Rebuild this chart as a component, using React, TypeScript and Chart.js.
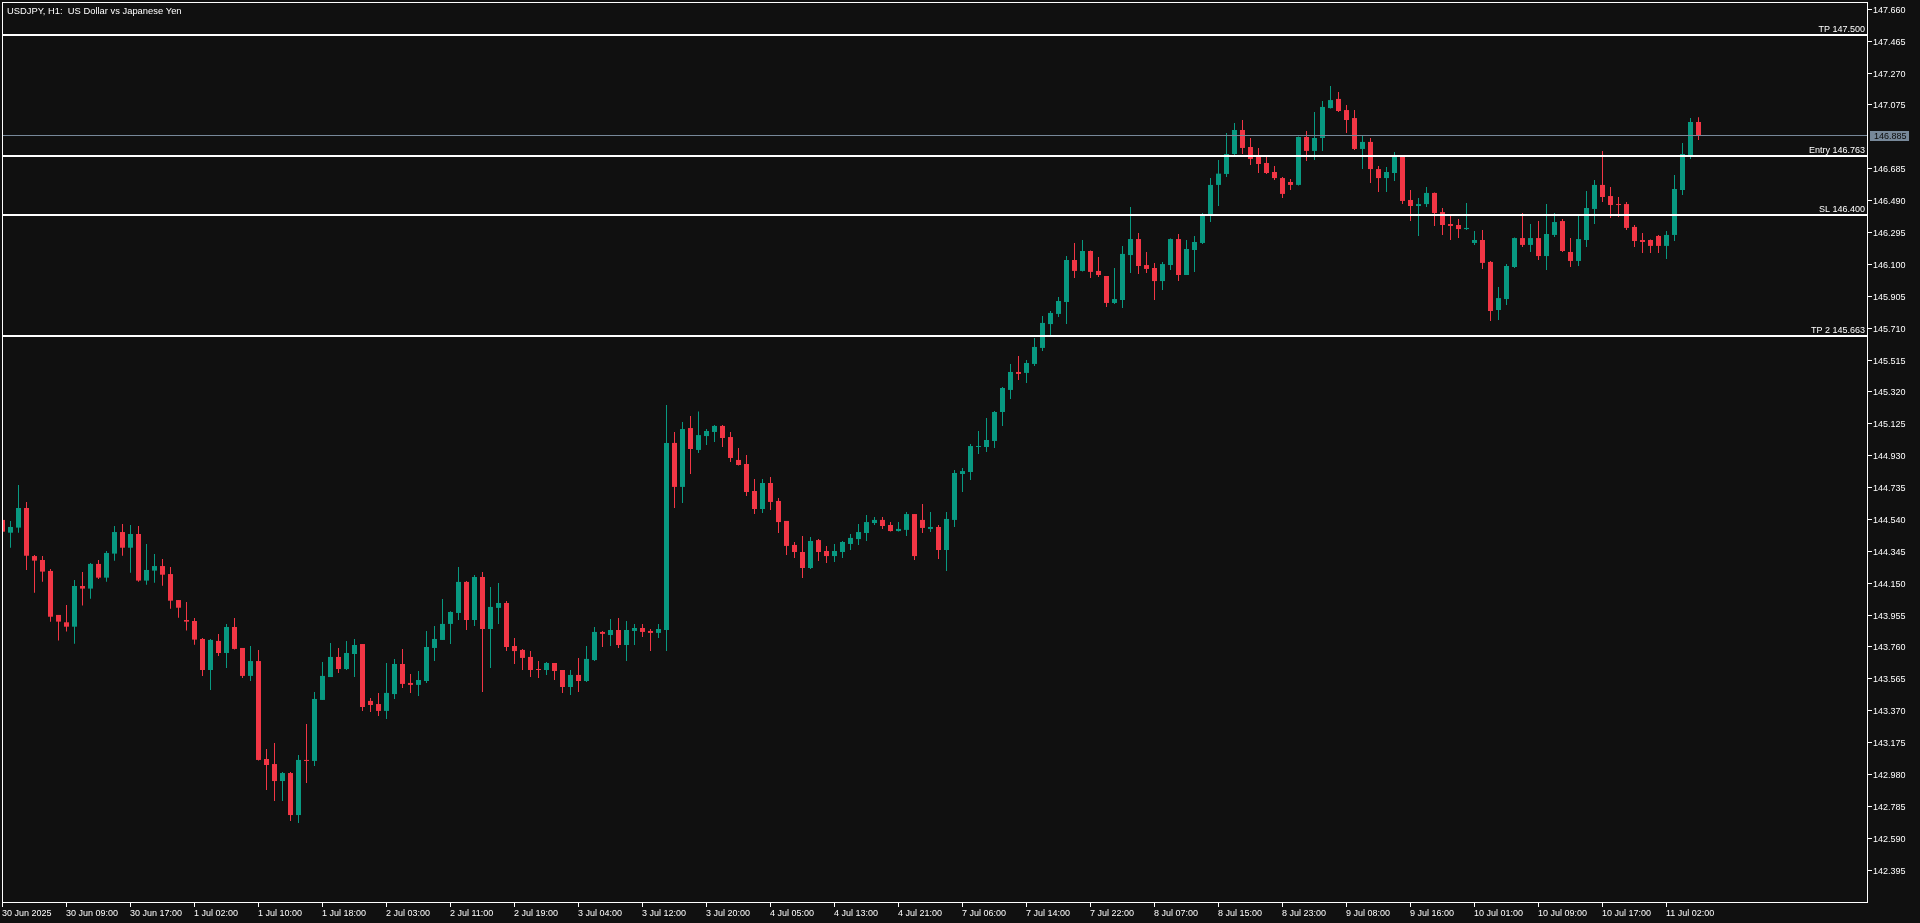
import React, { useEffect, useRef } from "react";
import { Chart, registerables } from "chart.js";

Chart.register(...registerables);

const chartTitle = "USDJPY, H1:  US Dollar vs Japanese Yen";

const opens = [
  144.537, 144.459, 144.49, 144.61, 144.316, 144.292, 144.225, 143.956, 143.911, 143.884,
  144.133, 144.117, 144.268, 144.184, 144.331, 144.463, 144.367, 144.451, 144.166, 144.227,
  144.255, 144.206, 144.047, 143.925, 143.919, 143.809, 143.619, 143.797, 143.723, 143.882,
  143.754, 143.583, 143.674, 143.075, 143.044, 142.94, 142.989, 142.732, 143.069, 143.063,
  143.436, 143.576, 143.699, 143.625, 143.717, 143.778, 143.43, 143.411, 143.369, 143.472,
  143.656, 143.54, 143.528, 143.552, 143.754, 143.803, 143.901, 143.968, 144.158, 143.925,
  144.188, 143.87, 143.999, 144.029, 143.766, 143.742, 143.699, 143.625, 143.619, 143.662,
  143.619, 143.515, 143.589, 143.552, 143.68, 143.852, 143.833, 143.864, 143.772, 143.858,
  143.876, 143.858, 143.846, 143.864, 145.008, 144.739, 145.099, 144.965, 145.05, 145.075,
  145.112, 145.044, 144.904, 144.879, 144.714, 144.604, 144.763, 144.653, 144.531, 144.384,
  144.341, 144.243, 144.414, 144.347, 144.316, 144.341, 144.39, 144.42, 144.457, 144.518,
  144.537, 144.506, 144.469, 144.476, 144.573, 144.537, 144.482, 144.494, 144.353, 144.537,
  144.818, 144.83, 144.983, 144.983, 145.02, 145.197, 145.332, 145.442, 145.436, 145.491,
  145.589, 145.735, 145.797, 145.87, 146.127, 146.06, 146.182, 146.06, 146.029, 145.864,
  145.882, 146.157, 146.255, 146.096, 146.078, 145.998, 146.096, 146.255, 146.035, 146.188,
  146.231, 146.408, 146.586, 146.653, 146.775, 146.922, 146.818, 146.757, 146.72, 146.665,
  146.628, 146.604, 146.586, 146.879, 146.794, 146.873, 147.056, 147.112, 147.044, 146.995,
  146.806, 146.849, 146.683, 146.628, 146.659, 146.763, 146.494, 146.457, 146.469, 146.537,
  146.42, 146.347, 146.341, 146.316, 146.231, 146.249, 146.115, 145.821, 145.888, 146.084,
  146.261, 146.219, 146.261, 146.151, 146.28, 146.365, 146.176, 146.121, 146.249, 146.439,
  146.586, 146.518, 146.469, 146.469, 146.329, 146.249, 146.249, 146.274, 146.213, 146.28,
  146.555, 146.769, 146.971,
];

const highs = [
  144.547, 144.53, 144.751, 144.647, 144.323, 144.316, 144.237, 143.956, 144.017, 144.17,
  144.219, 144.274, 144.292, 144.347, 144.5, 144.512, 144.506, 144.5, 144.39, 144.329,
  144.298, 144.249, 144.047, 144.035, 143.937, 143.815, 143.809, 143.839, 143.901, 143.937,
  143.754, 143.766, 143.742, 143.136, 143.173, 142.995, 142.995, 143.099, 143.289, 143.485,
  143.668, 143.784, 143.754, 143.797, 143.809, 143.778, 143.448, 143.479, 143.662, 143.687,
  143.748, 143.595, 143.613, 143.858, 143.888, 144.054, 143.978, 144.249, 144.164, 144.2,
  144.219, 144.127, 144.151, 144.041, 143.815, 143.748, 143.735, 143.674, 143.668, 143.662,
  143.619, 143.619, 143.693, 143.766, 143.882, 143.858, 143.931, 143.937, 143.919, 143.901,
  143.901, 143.87, 143.901, 145.24, 145.075, 145.136, 145.173, 145.2, 145.093, 145.118,
  145.118, 145.075, 144.977, 144.934, 144.787, 144.787, 144.8, 144.671, 144.531, 144.402,
  144.439, 144.433, 144.42, 144.378, 144.39, 144.408, 144.451, 144.512, 144.567, 144.555,
  144.555, 144.524, 144.524, 144.586, 144.573, 144.635, 144.586, 144.506, 144.586, 144.842,
  144.855, 145.002, 145.081, 145.161, 145.203, 145.35, 145.491, 145.54, 145.515, 145.65,
  145.784, 145.815, 145.901, 146.151, 146.231, 146.249, 146.185, 146.145, 146.029, 146.078,
  146.213, 146.451, 146.292, 146.176, 146.109, 146.115, 146.258, 146.286, 146.249, 146.274,
  146.414, 146.628, 146.738, 146.904, 146.965, 146.983, 146.873, 146.812, 146.757, 146.702,
  146.635, 146.622, 146.882, 146.916, 147.032, 147.099, 147.191, 147.154, 147.075, 147.044,
  146.885, 146.873, 146.702, 146.696, 146.787, 146.766, 146.555, 146.506, 146.573, 146.54,
  146.445, 146.402, 146.378, 146.475, 146.304, 146.31, 146.121, 145.962, 146.102, 146.264,
  146.414, 146.347, 146.365, 146.469, 146.414, 146.378, 146.261, 146.402, 146.549, 146.616,
  146.794, 146.573, 146.512, 146.482, 146.341, 146.292, 146.252, 146.28, 146.304, 146.647,
  146.842, 146.995, 147.0,
];

const lows = [
  144.455, 144.367, 144.459, 144.231, 144.092, 144.159, 143.915, 143.799, 143.854, 143.78,
  144.013, 144.055, 144.176, 144.159, 144.288, 144.318, 144.214, 144.159, 144.141, 144.153,
  144.135, 143.994, 143.939, 143.86, 143.774, 143.583, 143.497, 143.705, 143.632, 143.745,
  143.57, 143.552, 143.066, 142.885, 142.818, 142.818, 142.696, 142.684, 142.928, 143.032,
  143.436, 143.576, 143.601, 143.619, 143.576, 143.369, 143.362, 143.338, 143.32, 143.442,
  143.509, 143.479, 143.46, 143.54, 143.674, 143.803, 143.778, 143.925, 143.864, 143.888,
  143.485, 143.632, 143.901, 143.735, 143.656, 143.619, 143.577, 143.57, 143.589, 143.558,
  143.479, 143.466, 143.485, 143.546, 143.674, 143.76, 143.766, 143.754, 143.674, 143.772,
  143.821, 143.735, 143.815, 143.735, 144.61, 144.641, 144.818, 144.946, 144.995, 145.014,
  144.983, 144.891, 144.87, 144.683, 144.573, 144.579, 144.598, 144.457, 144.323, 144.304,
  144.182, 144.237, 144.286, 144.274, 144.28, 144.304, 144.353, 144.384, 144.408, 144.506,
  144.482, 144.466, 144.466, 144.439, 144.292, 144.457, 144.463, 144.298, 144.225, 144.494,
  144.708, 144.781, 144.94, 144.953, 144.977, 145.112, 145.277, 145.393, 145.375, 145.479,
  145.57, 145.668, 145.778, 145.735, 146.017, 146.057, 146.017, 146.023, 145.839, 145.858,
  145.833, 146.047, 146.041, 146.047, 145.882, 145.943, 146.066, 145.998, 146.035, 146.054,
  146.225, 146.359, 146.457, 146.635, 146.769, 146.775, 146.708, 146.659, 146.653, 146.616,
  146.506, 146.555, 146.583, 146.732, 146.738, 146.794, 147.053, 147.032, 146.904, 146.8,
  146.683, 146.598, 146.543, 146.543, 146.61, 146.469, 146.365, 146.274, 146.451, 146.335,
  146.28, 146.249, 146.261, 146.31, 146.219, 146.072, 145.754, 145.76, 145.852, 146.078,
  146.206, 146.176, 146.127, 146.066, 146.268, 146.176, 146.084, 146.09, 146.206, 146.347,
  146.482, 146.384, 146.39, 146.31, 146.206, 146.17, 146.17, 146.17, 146.133, 146.243,
  146.524, 146.745, 146.861,
];

const closes = [
  144.465, 144.494, 144.61, 144.318, 144.288, 144.221, 143.945, 143.915, 143.884, 144.133,
  144.117, 144.268, 144.184, 144.335, 144.463, 144.367, 144.451, 144.166, 144.231, 144.255,
  144.202, 144.043, 144.0, 143.915, 143.805, 143.619, 143.803, 143.723, 143.882, 143.748,
  143.583, 143.674, 143.069, 143.038, 142.94, 142.989, 142.732, 143.069, 143.063, 143.442,
  143.583, 143.699, 143.625, 143.723, 143.772, 143.393, 143.405, 143.369, 143.479, 143.656,
  143.534, 143.528, 143.558, 143.76, 143.809, 143.901, 143.974, 144.158, 143.925, 144.188,
  143.87, 144.005, 144.029, 143.76, 143.735, 143.693, 143.619, 143.619, 143.662, 143.613,
  143.515, 143.589, 143.552, 143.687, 143.852, 143.84, 143.864, 143.772, 143.864, 143.876,
  143.852, 143.846, 143.87, 145.008, 144.739, 145.093, 144.971, 145.056, 145.081, 145.112,
  145.038, 144.916, 144.873, 144.708, 144.604, 144.763, 144.647, 144.524, 144.378, 144.341,
  144.243, 144.408, 144.341, 144.316, 144.347, 144.402, 144.427, 144.463, 144.524, 144.537,
  144.5, 144.469, 144.482, 144.573, 144.316, 144.488, 144.494, 144.353, 144.543, 144.824,
  144.836, 144.989, 144.989, 145.026, 145.197, 145.344, 145.442, 145.43, 145.497, 145.595,
  145.742, 145.803, 145.876, 146.127, 146.06, 146.182, 146.054, 146.035, 145.864, 145.888,
  146.164, 146.255, 146.09, 146.072, 145.998, 146.102, 146.255, 146.035, 146.194, 146.237,
  146.396, 146.586, 146.655, 146.775, 146.922, 146.812, 146.745, 146.714, 146.659, 146.628,
  146.531, 146.586, 146.879, 146.794, 146.873, 147.063, 147.105, 147.038, 146.983, 146.806,
  146.849, 146.683, 146.628, 146.665, 146.763, 146.488, 146.457, 146.469, 146.537, 146.414,
  146.341, 146.335, 146.316, 146.323, 146.249, 146.109, 145.815, 145.894, 146.09, 146.261,
  146.219, 146.261, 146.151, 146.286, 146.359, 146.182, 146.121, 146.255, 146.445, 146.586,
  146.512, 146.463, 146.463, 146.323, 146.243, 146.237, 146.213, 146.213, 146.28, 146.561,
  146.775, 146.971, 146.885,
];

const xTickLabels = [
  "30 Jun 2025", "30 Jun 09:00", "30 Jun 17:00", "1 Jul 02:00", "1 Jul 10:00", "1 Jul 18:00",
  "2 Jul 03:00", "2 Jul 11:00", "2 Jul 19:00", "3 Jul 04:00", "3 Jul 12:00", "3 Jul 20:00",
  "4 Jul 05:00", "4 Jul 13:00", "4 Jul 21:00", "7 Jul 06:00", "7 Jul 14:00", "7 Jul 22:00",
  "8 Jul 07:00", "8 Jul 15:00", "8 Jul 23:00", "9 Jul 08:00", "9 Jul 16:00", "10 Jul 01:00",
  "10 Jul 09:00", "10 Jul 17:00", "11 Jul 02:00",
];
const xTickStep = 8;

const yTickLabels = [
  "147.660", "147.465", "147.270", "147.075", "146.880", "146.685", "146.490", "146.295",
  "146.100", "145.905", "145.710", "145.515", "145.320", "145.125", "144.930", "144.735",
  "144.540", "144.345", "144.150", "143.955", "143.760", "143.565", "143.370", "143.175",
  "142.980", "142.785", "142.590", "142.395",
];

const levelPrices = [147.5, 146.763, 146.4, 145.663];
const levelLabels = ["TP 147.500", "Entry 146.763", "SL 146.400", "TP 2 145.663"];
const bidPrice = 146.885;
const bidLabel = "146.885";

// scale ranges (visible window)
const X_MIN = -0.0625;
const X_MAX = 233.0625;
const Y_MAX = 147.7048;
const Y_MIN = 142.2002;

const BG = "#101010";
const UP = "#089981";
const DOWN = "#f23645";
const FG = "#ffffff";
const BID = "#778899";
const FONT = '9px "Liberation Sans", Arial, sans-serif';
const TITLE_FONT = '9.4px "Liberation Sans", Arial, sans-serif';

const mt5Plugin = {
  id: "mt5decor",
  beforeDraw(chart: any) {
    const ctx = chart.ctx;
    ctx.save();
    ctx.fillStyle = BG;
    ctx.fillRect(0, 0, chart.width, chart.height);
    ctx.restore();
  },
  afterDatasetsDraw(chart: any) {
    const { ctx, chartArea } = chart;
    const xs = chart.scales.x;
    const ys = chart.scales.y;
    const L = chartArea.left;
    const R = chartArea.right;
    const T = chartArea.top;
    const B = chartArea.bottom;
    ctx.save();
    ctx.font = FONT;

    // bid line
    const bidY = ys.getPixelForValue(bidPrice);
    ctx.fillStyle = BID;
    ctx.fillRect(L, Math.round(bidY) - 1, R - L, 1);

    // level lines
    levelPrices.forEach((p, k) => {
      const py = Math.round(ys.getPixelForValue(p));
      ctx.fillStyle = FG;
      ctx.fillRect(L, py - 1, R - L, 2);
      ctx.textAlign = "right";
      ctx.textBaseline = "alphabetic";
      ctx.fillText(levelLabels[k], R - 2, py - 3);
    });

    // frame
    ctx.strokeStyle = FG;
    ctx.lineWidth = 1;
    ctx.strokeRect(L + 0.5, T + 0.5, R - L, B - T);

    // y ticks
    ctx.fillStyle = FG;
    ctx.textAlign = "left";
    ctx.textBaseline = "alphabetic";
    yTickLabels.forEach((lab) => {
      const py = ys.getPixelForValue(parseFloat(lab));
      if (Math.abs(py - bidY) < 8) return;
      ctx.fillRect(R + 1, Math.floor(py), 4, 1);
      ctx.fillText(lab, R + 6, Math.floor(py) + 4);
    });

    // bid label box
    ctx.fillStyle = BID;
    ctx.fillRect(R + 3, Math.round(bidY) - 5, 39, 10);
    ctx.fillStyle = "#0b0b0b";
    ctx.fillText(bidLabel, R + 7, Math.round(bidY) + 3);

    // x ticks
    ctx.fillStyle = FG;
    xTickLabels.forEach((lab, k) => {
      const px = xs.getPixelForValue(k * xTickStep);
      ctx.fillRect(Math.floor(px), B + 1, 1, 4);
      ctx.fillText(lab, Math.floor(px), B + 13.5);
    });

    // title
    ctx.font = TITLE_FONT;
    ctx.fillText(chartTitle, L + 5, T + 11.5);
    ctx.restore();
  },
};

export default function App() {
  const ref = useRef<HTMLCanvasElement>(null);
  useEffect(() => {
    const canvas = ref.current;
    if (!canvas) return;
    const colors = closes.map((c, i) => (c >= opens[i] ? UP : DOWN));
    const chart = new Chart(canvas, {
      type: "bar",
      data: {
        datasets: [
          {
            label: "body",
            data: opens.map((o, i) => ({ x: i, y: [o, closes[i]] })) as any,
            backgroundColor: colors,
            barThickness: 5,
            minBarLength: 1,
            grouped: false,
            order: 0,
            borderWidth: 0,
            inflateAmount: 0,
          } as any,
          {
            label: "wick",
            data: lows.map((l, i) => ({ x: i, y: [l, highs[i]] })) as any,
            backgroundColor: colors,
            barThickness: 1,
            minBarLength: 1,
            grouped: false,
            order: 1,
            borderWidth: 0,
            inflateAmount: 0,
          } as any,
        ],
      },
      options: {
        responsive: false,
        animation: false,
        devicePixelRatio: 1,
        events: [],
        layout: { padding: { left: 2, top: 2, right: 53, bottom: 21 } },
        plugins: { legend: { display: false }, tooltip: { enabled: false } },
        scales: {
          x: { type: "linear", min: X_MIN, max: X_MAX, offset: false, display: false },
          y: { type: "linear", min: Y_MIN, max: Y_MAX, display: false },
        },
      } as any,
      plugins: [mt5Plugin],
    });
    return () => chart.destroy();
  }, []);
  return (
    <div style={{ position: "absolute", left: 0, top: 0, width: 1920, height: 923, background: BG }}>
      <canvas ref={ref} width={1920} height={923} style={{ display: "block" }} />
    </div>
  );
}
